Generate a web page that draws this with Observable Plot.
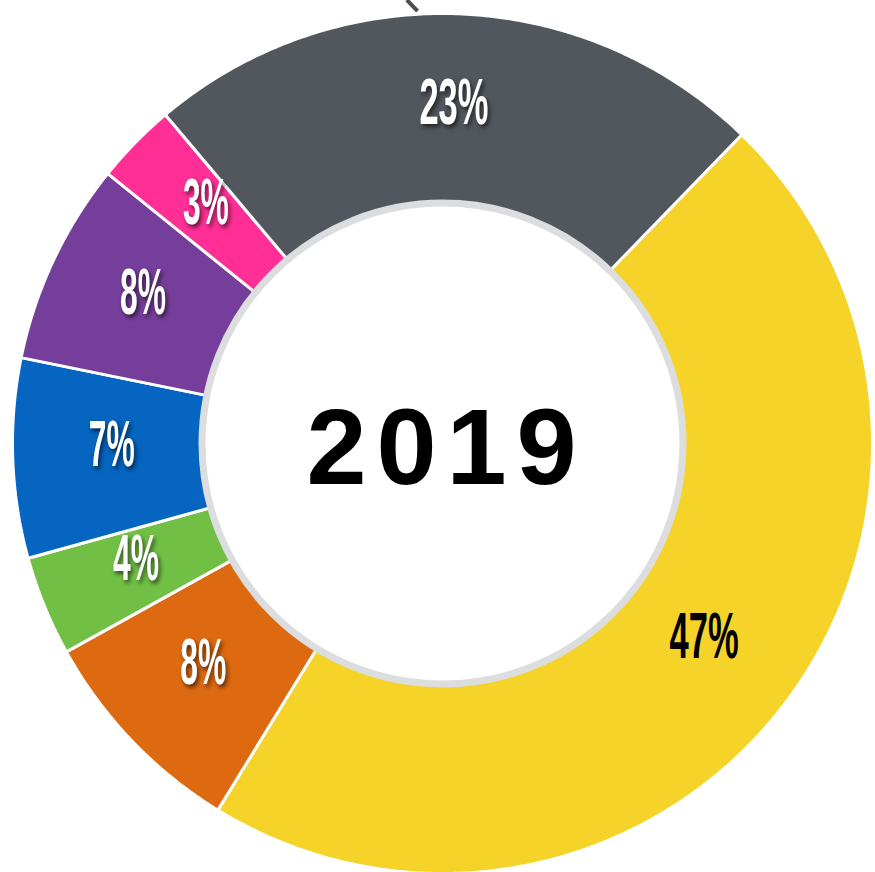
<!DOCTYPE html>
<html>
<head>
<meta charset="utf-8">
<script src="https://cdn.jsdelivr.net/npm/d3@7"></script>
<script src="https://cdn.jsdelivr.net/npm/@observablehq/plot@0.6"></script>
<style>
  html, body { margin: 0; padding: 0; background: #ffffff; }
  #chart svg { display: block; }
</style>
</head>
<body>
<div id="chart"></div>
<script>
// ---- data ----
const categories = ["A", "B", "C", "D", "E", "F", "G"];
const shares = [46.5, 8.2, 3.75, 7.5, 7.6, 3.05, 23.4];        // slice sizes (%)
const labels = ["47%", "8%", "4%", "7%", "8%", "3%", "23%"];     // printed labels
const colors = ["#f5d329", "#dd6a11", "#71c045", "#0565c0", "#763e9b", "#ff2f96", "#52575e"];
const labelColors = ["#000000", "#ffffff", "#ffffff", "#ffffff", "#ffffff", "#ffffff", "#ffffff"];
const centerTitle = "2019";
const startAngle = 44.1; // degrees clockwise from 12 o'clock

// ---- geometry (in pixel-like data units) ----
const R = 430, R0 = 236, RL = 331;
const rad = (d) => d * Math.PI / 180;
const total = d3.sum(shares);
let acc = startAngle;
const slices = shares.map((v, i) => {
  const a0 = acc, a1 = acc + v / total * 360;
  acc = a1;
  return {key: categories[i], a0, a1, color: colors[i], label: labels[i], labelColor: labelColors[i]};
});
const pts = [];
for (const s of slices) {
  const n = Math.max(8, Math.ceil((s.a1 - s.a0) * 2));
  const ring = [];
  for (let k = 0; k <= n; k++) { const a = s.a0 + (s.a1 - s.a0) * k / n; ring.push([R * Math.sin(rad(a)), R * Math.cos(rad(a))]); }
  for (let k = n; k >= 0; k--) { const a = s.a0 + (s.a1 - s.a0) * k / n; ring.push([R0 * Math.sin(rad(a)), R0 * Math.cos(rad(a))]); }
  ring.push(ring[0]);
  for (const [x, y] of ring) pts.push({key: s.key, x, y, color: s.color});
}
const labelPts = slices.map(s => {
  const m = (s.a0 + s.a1) / 2;
  return {x: RL * Math.sin(rad(m)), y: RL * Math.cos(rad(m)), label: s.label, color: s.labelColor};
});
const leader = [{a: -3.3, r1: 433, a2: -4.6, r2: 445}];

const labelFont = "'Liberation Sans', Arial, sans-serif";
const chart = Plot.plot({
  width: 875,
  height: 872,
  margin: 0,
  x: {domain: [-442, 433], axis: null},
  y: {domain: [-429, 443], axis: null},
  color: {type: "identity"},
  marks: [
    Plot.link(leader, {
      x1: d => d.r1 * Math.sin(rad(d.a)), y1: d => d.r1 * Math.cos(rad(d.a)),
      x2: d => d.r2 * Math.sin(rad(d.a2)), y2: d => d.r2 * Math.cos(rad(d.a2)),
      stroke: "#4a4d52", strokeWidth: 4
    }),
    Plot.line(pts, {x: "x", y: "y", z: "key", fill: "color", stroke: "white", strokeWidth: 3, strokeLinejoin: "miter", curve: "linear"}),
    Plot.dot([{x: 0, y: 0}], {x: "x", y: "y", r: 240.5, fill: "white", stroke: "#dcdddf", strokeWidth: 7}),
    Plot.text(labelPts, {
      x: "x", y: "y", text: "label", fill: "color", fontSize: 64, fontWeight: "bold",
      fontFamily: labelFont, textAnchor: "middle", lineAnchor: "middle", dy: -9
    }),
    Plot.text([centerTitle], {
      x: () => 0, y: () => 0, text: d => d, fill: "black", fontSize: 108, fontWeight: "bold",
      fontFamily: "'Liberation Sans', Arial, sans-serif", textAnchor: "middle", lineAnchor: "middle",
      dx: 4, dy: 6
    })
  ]
});

// condensed look: fit each label to a narrow width; shadows on white labels
chart.querySelectorAll("text").forEach(t => {
  const s = t.textContent;
  if (labels.includes(s)) {
    t.setAttribute("textLength", 23 * s.length);
    t.setAttribute("lengthAdjust", "spacingAndGlyphs");
    const f = t.getAttribute("fill") || t.parentNode.getAttribute("fill") || "";
    if (f.toLowerCase() === "#ffffff" || f === "white" || f === "rgb(255, 255, 255)") {
      t.style.filter = "drop-shadow(2px 3px 2px rgba(0,0,0,0.6))";
    }
  } else if (s === centerTitle) {
    t.setAttribute("letter-spacing", "10");
  }
});
document.getElementById("chart").appendChild(chart);
</script>
</body>
</html>
